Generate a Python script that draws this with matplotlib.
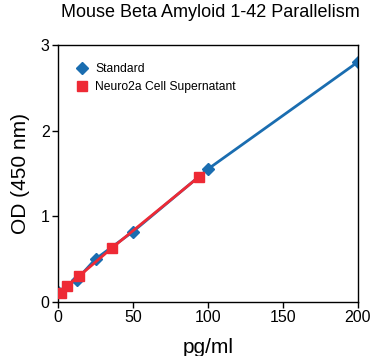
import matplotlib
matplotlib.use("Agg")
import matplotlib.pyplot as plt

plt.rcParams['font.family'] = ['Liberation Sans', 'DejaVu Sans']

std_x = [0, 12.5, 25, 50, 100, 200]
std_y = [0.12, 0.26, 0.50, 0.82, 1.55, 2.80]
n2a_x = [2, 6, 14, 36, 94]
n2a_y = [0.10, 0.19, 0.30, 0.63, 1.46]

blue = '#1a6db0'
red = '#ee2a35'

fig = plt.figure(figsize=(3.72, 3.56), dpi=100)
ax = fig.add_axes([0.156, 0.152, 0.806, 0.722])

ax.plot(std_x, std_y, color=blue, lw=2, marker='D', ms=6.5, label='Standard', zorder=2)
ax.plot(n2a_x, n2a_y, color=red, lw=2, marker='s', ms=7.5, label='Neuro2a Cell Supernatant', zorder=3)

ax.set_xlim(0, 200)
ax.set_ylim(0, 3)
ax.set_xticks([0, 50, 100, 150, 200])
ax.set_yticks([0, 1, 2, 3])
ax.tick_params(direction='out', length=4, width=1, labelsize=11.5, pad=2)
for s in ax.spines.values():
    s.set_linewidth(1)
ax.set_xlabel('pg/ml', fontsize=15, labelpad=9)
ax.set_ylabel('OD (450 nm)', fontsize=15, labelpad=8)
fig.suptitle('Mouse Beta Amyloid 1-42 Parallelism', fontsize=13, x=0.565, y=0.99)

leg = ax.legend(loc='upper left', frameon=False, fontsize=8.7, handlelength=1.0,
                handletextpad=0.6, borderaxespad=1.0, labelspacing=0.5,
                borderpad=0.5)
for h in leg.legend_handles:
    h.set_linestyle('none')

fig.savefig('out.png', dpi=100)
